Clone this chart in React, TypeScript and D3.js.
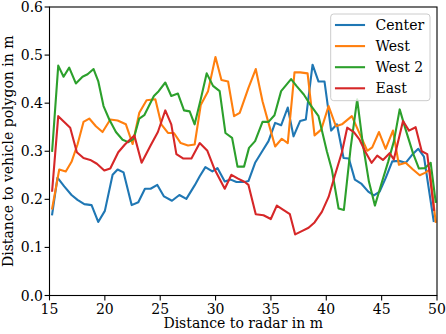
import * as d3 from 'd3';

// distance to radar (m) and distance to vehicle polygon (m)
const centerX = [15.24, 15.72, 16.33, 16.99, 17.53, 18.14, 18.8, 19.4, 20.0, 20.7, 21.15, 21.69, 22.42, 23.02, 23.62, 24.13, 24.74, 25.34, 26.06, 26.73, 27.36, 28.11, 28.57, 29.08, 29.71, 30.17, 30.83, 31.37, 31.89, 32.64, 32.97, 33.57, 34.24, 34.78, 35.38, 35.92, 36.52, 37.04, 37.64, 38.15, 38.76, 39.3, 39.84, 40.44, 40.96, 41.56, 42.04, 42.58, 43.19, 43.79, 44.3, 44.82, 45.36, 45.96, 46.56, 47.17, 47.77, 48.31, 48.82, 49.7];
const centerY = [0.169, 0.245, 0.227, 0.209, 0.199, 0.19, 0.188, 0.153, 0.176, 0.251, 0.262, 0.256, 0.188, 0.194, 0.222, 0.222, 0.23, 0.206, 0.197, 0.209, 0.201, 0.229, 0.248, 0.267, 0.258, 0.265, 0.237, 0.241, 0.236, 0.236, 0.238, 0.276, 0.301, 0.321, 0.359, 0.354, 0.391, 0.331, 0.363, 0.366, 0.48, 0.445, 0.445, 0.343, 0.356, 0.286, 0.285, 0.241, 0.232, 0.216, 0.208, 0.216, 0.244, 0.279, 0.28, 0.276, 0.293, 0.305, 0.289, 0.155];

const westX = [15.24, 15.88, 16.47, 16.99, 17.53, 18.07, 18.59, 19.19, 19.79, 20.49, 21.15, 21.9, 22.51, 23.11, 23.77, 24.56, 25.1, 25.7, 26.24, 26.85, 27.51, 28.11, 28.66, 29.32, 29.99, 30.53, 31.13, 31.67, 32.18, 32.97, 33.63, 34.24, 34.78, 35.38, 35.98, 36.52, 37.13, 37.64, 38.31, 38.94, 39.54, 40.21, 40.87, 41.41, 42.31, 43.04, 43.7, 44.15, 44.76, 45.36, 46.02, 46.56, 47.17, 47.83, 48.44, 48.91, 49.34, 49.88];
const westY = [0.181, 0.262, 0.258, 0.278, 0.314, 0.361, 0.368, 0.352, 0.34, 0.366, 0.364, 0.356, 0.315, 0.38, 0.406, 0.408, 0.356, 0.338, 0.338, 0.317, 0.312, 0.314, 0.396, 0.425, 0.496, 0.448, 0.445, 0.373, 0.38, 0.432, 0.471, 0.404, 0.359, 0.31, 0.326, 0.317, 0.464, 0.464, 0.462, 0.333, 0.345, 0.394, 0.352, 0.356, 0.373, 0.335, 0.301, 0.308, 0.34, 0.305, 0.343, 0.272, 0.276, 0.262, 0.25, 0.255, 0.262, 0.153];

const west2X = [15.24, 15.79, 16.27, 16.78, 17.38, 17.98, 18.44, 18.98, 19.4, 19.88, 20.4, 21.0, 21.6, 22.12, 22.6, 23.11, 23.56, 24.43, 24.86, 25.46, 26.0, 26.6, 27.15, 27.66, 28.11, 28.66, 29.2, 29.77, 30.37, 30.89, 31.49, 31.98, 32.57, 33.02, 33.57, 34.24, 34.78, 35.32, 35.92, 36.82, 37.34, 37.97, 38.61, 39.3, 40.05, 40.5, 41.11, 41.59, 42.2, 42.79, 43.31, 43.85, 44.39, 45.0, 45.6, 46.11, 46.63, 47.17, 47.83, 48.37, 48.91, 49.43, 49.88];
const west2Y = [0.301, 0.478, 0.455, 0.474, 0.441, 0.455, 0.46, 0.471, 0.446, 0.394, 0.366, 0.34, 0.324, 0.319, 0.326, 0.368, 0.375, 0.415, 0.425, 0.443, 0.415, 0.42, 0.385, 0.383, 0.356, 0.408, 0.462, 0.436, 0.425, 0.338, 0.328, 0.268, 0.268, 0.307, 0.321, 0.361, 0.361, 0.375, 0.425, 0.45, 0.435, 0.418, 0.395, 0.373, 0.3, 0.262, 0.181, 0.178, 0.307, 0.408, 0.314, 0.237, 0.187, 0.234, 0.279, 0.321, 0.387, 0.345, 0.296, 0.264, 0.265, 0.276, 0.195];

const eastX = [15.24, 15.79, 16.33, 16.87, 17.47, 18.07, 18.68, 19.28, 19.95, 20.49, 21.21, 21.81, 22.66, 23.32, 24.13, 24.79, 25.46, 26.0, 26.46, 27.06, 27.82, 28.57, 29.26, 29.92, 30.83, 31.43, 32.03, 32.64, 32.97, 33.63, 34.33, 34.99, 35.53, 36.71, 37.19, 37.79, 38.4, 38.94, 39.6, 40.21, 40.78, 41.41, 41.89, 42.49, 43.01, 43.55, 44.09, 44.6, 45.12, 45.72, 46.1, 46.93, 47.47, 48.07, 48.62, 49.12, 49.73];
const eastY = [0.218, 0.373, 0.361, 0.349, 0.298, 0.286, 0.282, 0.274, 0.26, 0.264, 0.298, 0.314, 0.333, 0.276, 0.312, 0.34, 0.385, 0.356, 0.294, 0.285, 0.285, 0.317, 0.301, 0.262, 0.222, 0.251, 0.243, 0.236, 0.23, 0.169, 0.167, 0.159, 0.187, 0.169, 0.127, 0.134, 0.141, 0.152, 0.174, 0.205, 0.25, 0.298, 0.349, 0.34, 0.324, 0.298, 0.276, 0.291, 0.282, 0.296, 0.283, 0.363, 0.343, 0.35, 0.3, 0.294, 0.178];

const seriesNames = ['Center', 'West', 'West 2', 'East'];
const seriesColors = ['#1f77b4', '#ff7f0e', '#2ca02c', '#d62728'];
const xTicks = [15, 20, 25, 30, 35, 40, 45, 50];
const yTicks = [0, 0.1, 0.2, 0.3, 0.4, 0.5, 0.6];

const W = 446;
const H = 334;
const left = 49.5;
const right = 437;
const top = 7;
const bottom = 295.5;
const font = '"DejaVu Serif", serif';

export default function App() {
  const x = d3.scaleLinear().domain([15, 50]).range([left, right]);
  const y = d3.scaleLinear().domain([0, 0.6]).range([bottom, top]);

  const series = [
    { name: seriesNames[0], color: seriesColors[0], xs: centerX, ys: centerY },
    { name: seriesNames[1], color: seriesColors[1], xs: westX, ys: westY },
    { name: seriesNames[2], color: seriesColors[2], xs: west2X, ys: west2Y },
    { name: seriesNames[3], color: seriesColors[3], xs: eastX, ys: eastY },
  ];

  const line = d3
    .line<[number, number]>()
    .x(d => x(d[0]))
    .y(d => y(d[1]));

  const fmtY = d3.format('.1f');

  return (
    <svg
      width={W}
      height={H}
      style={{ position: 'absolute', left: 0, top: 0, display: 'block', background: '#fff' }}
      fontFamily={font}
      fontSize={14}
    >
      <defs>
        <clipPath id="plot">
          <rect x={left} y={top} width={right - left} height={bottom - top} />
        </clipPath>
      </defs>

      <g clipPath="url(#plot)">
        {series.map(s => (
          <path
            key={s.name}
            d={line(d3.zip(s.xs, s.ys) as [number, number][]) || ''}
            fill="none"
            stroke={s.color}
            strokeWidth={2.1}
            strokeLinejoin="round"
            strokeLinecap="square"
          />
        ))}
      </g>

      {/* spines */}
      <rect x={left} y={top} width={right - left} height={bottom - top} fill="none" stroke="#000" strokeWidth={1.1} />

      {/* x axis */}
      {xTicks.map(t => (
        <g key={t}>
          <line x1={x(t)} x2={x(t)} y1={bottom} y2={bottom + 4.9} stroke="#000" strokeWidth={1.1} />
          <text x={x(t)} y={313.5} textAnchor="middle" fill="#000">
            {t}
          </text>
        </g>
      ))}
      <text x={(left + right) / 2} y={328} textAnchor="middle" fill="#000">
        Distance to radar in m
      </text>

      {/* y axis */}
      {yTicks.map(t => (
        <g key={t}>
          <line x1={left - 4.9} x2={left} y1={y(t)} y2={y(t)} stroke="#000" strokeWidth={1.1} />
          <text x={43} y={y(t) + 5} textAnchor="end" fill="#000">
            {fmtY(t)}
          </text>
        </g>
      ))}
      <text
        transform={`translate(12.5,${(top + bottom) / 2}) rotate(-90)`}
        textAnchor="middle"
        fill="#000"
      >
        Distance to vehicle polygon in m
      </text>

      {/* legend */}
      <rect x={330.7} y={14} width={99.3} height={86.7} rx={3} fill="#fff" fillOpacity={0.8} stroke="#ccc" strokeWidth={1} />
      {series.map((s, i) => {
        const ly = 25 + i * 21.1;
        return (
          <g key={s.name}>
            <line x1={336} x2={364} y1={ly} y2={ly} stroke={s.color} strokeWidth={2.1} strokeLinecap="square" />
            <text x={375.5} y={ly + 5} fill="#000">
              {s.name}
            </text>
          </g>
        );
      })}
    </svg>
  );
}
